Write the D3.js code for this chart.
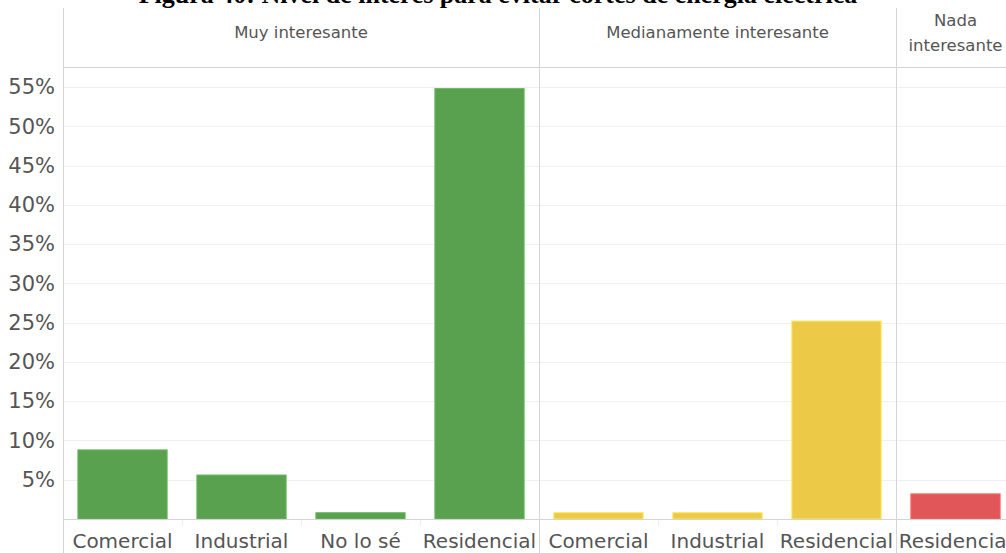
<!DOCTYPE html>
<html><head><meta charset="utf-8">
<script src="https://cdn.jsdelivr.net/npm/d3@7"></script>
<style>body{margin:0;background:#fff;overflow:hidden}svg{display:block}</style>
</head><body><svg id="c" width="1006" height="553"></svg>
<script>
const title = "Figura 40: Nivel de interés para evitar cortes de energía eléctrica";
const panels = ["Muy interesante", "Medianamente interesante", "Nada interesante"];
const muyCats = ["Comercial", "Industrial", "No lo sé", "Residencial"];
const muyVals = [0.088, 0.056, 0.008, 0.548];
const medCats = ["Comercial", "Industrial", "Residencial"];
const medVals = [0.008, 0.008, 0.252];
const nadaCats = ["Residencial"];
const nadaVals = [0.032];
const panelColors = ["#59A14F", "#EDC948", "#E15759"];
const yTicks = [0.05,0.10,0.15,0.20,0.25,0.30,0.35,0.40,0.45,0.50,0.55];

const data = [
  {name: panels[0], cats: muyCats, vals: muyVals, color: panelColors[0]},
  {name: panels[1], cats: medCats, vals: medVals, color: panelColors[1]},
  {name: panels[2], cats: nadaCats, vals: nadaVals, color: panelColors[2]}
];

const svg = d3.select("#c");
const leftX = 63, bandW = 119, topY = 8, headerBottom = 67, base = 519;
const y = d3.scaleLinear().domain([0, 0.55]).range([base, 87]);
const font = "'DejaVu Sans', sans-serif";
const txt = "#555";

const totalBands = d3.sum(data, d => d.cats.length);
const rightX = leftX + totalBands * bandW;
svg.append("g").selectAll("line").data(yTicks).join("line")
  .attr("x1", leftX).attr("x2", rightX)
  .attr("y1", d => Math.round(y(d)) + 0.5).attr("y2", d => Math.round(y(d)) + 0.5)
  .attr("stroke", "#f0f0f0").attr("stroke-width", 1);

const yAxis = d3.axisLeft(y).tickValues(yTicks).tickFormat(d3.format(".0%")).tickSize(0).tickPadding(8);
const ga = svg.append("g").attr("transform", `translate(${leftX},0)`).call(yAxis);
ga.select(".domain").remove();
ga.selectAll("text").attr("font-family", font).attr("font-size", 21).attr("fill", txt);

let x0 = leftX;
data.forEach((p, i) => {
  const w = p.cats.length * bandW;
  const x = d3.scaleBand().domain(p.cats).range([x0, x0 + w]).paddingInner(0.25).paddingOuter(0.125);
  const g = svg.append("g");
  g.selectAll("rect").data(p.cats).join("rect")
    .attr("x", c => x(c)).attr("width", x.bandwidth())
    .attr("y", (c, j) => y(p.vals[j])).attr("height", (c, j) => base - y(p.vals[j]))
    .attr("fill", p.color).attr("stroke", d3.color(p.color).brighter(0.4)).attr("stroke-width", 1);
  g.selectAll("text.xl").data(p.cats).join("text").attr("class", "xl")
    .attr("x", c => x(c) + x.bandwidth() / 2).attr("y", 548)
    .attr("text-anchor", "middle").attr("font-family", font).attr("font-size", 20).attr("fill", txt)
    .text(c => c);
  g.selectAll("line.sep").data(p.cats.slice(1)).join("line").attr("class", "sep")
    .attr("x1", c => Math.round(x(c) - x.step() * 0.125) + 0.5)
    .attr("x2", c => Math.round(x(c) - x.step() * 0.125) + 0.5)
    .attr("y1", base).attr("y2", base + 7).attr("stroke", "#eee");
  const hx = x0 + w / 2;
  if (p.name === "Nada interesante") {
    const t = g.append("text").attr("text-anchor", "middle").attr("font-family", font)
      .attr("font-size", 16.5).attr("fill", txt);
    t.append("tspan").attr("x", hx).attr("y", 26).text("Nada");
    t.append("tspan").attr("x", hx).attr("y", 51).text("interesante");
  } else {
    g.append("text").attr("x", hx).attr("y", 38).attr("text-anchor", "middle")
      .attr("font-family", font).attr("font-size", 16.5).attr("fill", txt).text(p.name);
  }
  x0 += w;
  if (i < data.length - 1) {
    svg.append("line").attr("x1", x0 + 0.5).attr("x2", x0 + 0.5).attr("y1", topY).attr("y2", 553)
      .attr("stroke", "#d4d4d4");
  }
});

svg.append("line").attr("x1", leftX + 0.5).attr("x2", leftX + 0.5).attr("y1", topY).attr("y2", 553).attr("stroke", "#d4d4d4");
svg.append("line").attr("x1", leftX).attr("x2", rightX).attr("y1", headerBottom + 0.5).attr("y2", headerBottom + 0.5).attr("stroke", "#d4d4d4");
svg.append("line").attr("x1", leftX).attr("x2", rightX).attr("y1", base + 0.5).attr("y2", base + 0.5).attr("stroke", "#d4d4d4");

svg.append("text").attr("x", 498).attr("y", 3).attr("text-anchor", "middle")
  .attr("font-family", "'Liberation Serif', serif").attr("font-weight", "bold").attr("font-size", 26)
  .attr("fill", "#000").text(title);
</script></body></html>
